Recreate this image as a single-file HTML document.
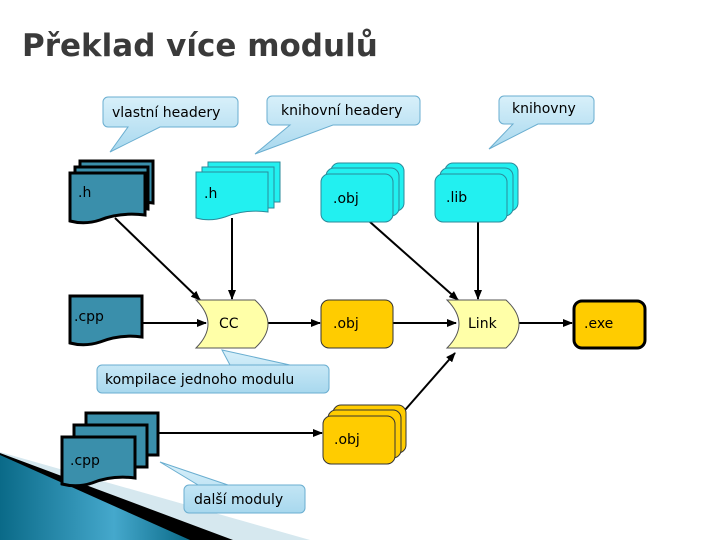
<!DOCTYPE html>
<html><head><meta charset="utf-8"><style>
body{margin:0;width:720px;height:540px;background:#fff;overflow:hidden}
svg{display:block}
text{font-family:"DejaVu Sans","Liberation Sans",sans-serif;font-size:14px;fill:#000}
</style></head><body>
<svg width="720" height="540" viewBox="0 0 720 540">
<defs>
<marker id="a" markerWidth="10" markerHeight="8" refX="9" refY="4" orient="auto" markerUnits="userSpaceOnUse"><path d="M0,0L10,4L0,8z" fill="#000"/></marker>
<linearGradient id="cg" x1="0" y1="0" x2="0" y2="1"><stop offset="0" stop-color="#d8f0fa"/><stop offset="1" stop-color="#a8d8ee"/></linearGradient>
<linearGradient id="bw" x1="0" y1="0" x2="1" y2="0"><stop offset="0" stop-color="#0a6a88"/><stop offset="0.6" stop-color="#45a8cc"/><stop offset="1" stop-color="#0a6a88"/></linearGradient>
</defs>
<polygon points="0,452 310,540 0,540" fill="#d6e8ef"/>
<polygon points="0,453 233,540 0,540" fill="#000"/>
<polygon points="0,455 190,540 0,540" fill="url(#bw)"/>

<text x="22" y="56" style="font-size:31px;font-weight:bold;fill:#3a3a3a">Překlad více modulů</text>

<g stroke="#6aaed0" stroke-width="1" fill="url(#cg)">
<path d="M108,97H233a5,5 0 0 1 5,5V122a5,5 0 0 1 -5,5H160L110,152L128,127H108a5,5 0 0 1 -5,-5V102a5,5 0 0 1 5,-5z"/>
<path d="M272,96H415a5,5 0 0 1 5,5V120a5,5 0 0 1 -5,5H333L255,154L290,125H272a5,5 0 0 1 -5,-5V101a5,5 0 0 1 5,-5z"/>
<path d="M504,96H589a5,5 0 0 1 5,5V119a5,5 0 0 1 -5,5H538L489,149L513,124H504a5,5 0 0 1 -5,-5V101a5,5 0 0 1 5,-5z"/>
<path d="M102,365H324a5,5 0 0 1 5,5V388a5,5 0 0 1 -5,5H102a5,5 0 0 1 -5,-5V370a5,5 0 0 1 5,-5H230L222,350L290,365"/>
<path d="M189,485H300a5,5 0 0 1 5,5V508a5,5 0 0 1 -5,5H189a5,5 0 0 1 -5,-5V490a5,5 0 0 1 5,-5H198L160,462L228,485"/>
</g>
<text x="112" y="117">vlastní headery</text>
<text x="281" y="115">knihovní headery</text>
<text x="512" y="113">knihovny</text>
<text x="105" y="384">kompilace jednoho modulu</text>
<text x="194" y="504">další moduly</text>

<g stroke="#000" stroke-width="2" fill="none" marker-end="url(#a)">
<line x1="115" y1="218" x2="200" y2="300"/>
<line x1="232" y1="218" x2="232" y2="299"/>
<line x1="370" y1="222" x2="458" y2="300"/>
<line x1="478" y1="222" x2="478" y2="299"/>
<line x1="142" y1="323" x2="206" y2="323"/>
<line x1="268" y1="323" x2="320" y2="323"/>
<line x1="393" y1="323" x2="456" y2="323"/>
<line x1="519" y1="323" x2="572" y2="323"/>
<line x1="158" y1="433" x2="322" y2="433"/>
<line x1="405" y1="410" x2="455" y2="353"/>
</g>

<g fill="#3a8fab" stroke="#000" stroke-width="3">
<path d="M80,161H153V203Q130,200 110,210Q95,214 80,210z"/>
<path d="M75,167H148V209Q125,206 105,216Q90,220 75,216z"/>
<path d="M70,173H145V215Q120,212 100,220Q85,225 70,221z"/>
<path d="M70,296H142V337Q120,334 100,342Q85,347 70,343z"/>
<path d="M86,413H158V455H86z"/>
<path d="M74,425H147V467H74z"/>
<path d="M62,437H135V478Q112,475 92,483Q77,488 62,484z"/>
</g>
<text x="78" y="197">.h</text>
<text x="74" y="321">.cpp</text>
<text x="70" y="465">.cpp</text>

<g fill="#22f0f0" stroke="#2a8a9a" stroke-width="1">
<path d="M208,162H280V202H208z"/>
<path d="M202,167H274V208H202z"/>
<path d="M196,172H268V212Q245,209 225,217Q210,222 196,218z"/>
<rect x="331" y="163" width="73" height="48" rx="8"/>
<rect x="326" y="168" width="73" height="48" rx="8"/>
<rect x="321" y="174" width="72" height="48" rx="8"/>
<rect x="445" y="163" width="73" height="48" rx="8"/>
<rect x="440" y="168" width="73" height="48" rx="8"/>
<rect x="435" y="174" width="72" height="48" rx="8"/>
</g>
<text x="204" y="198">.h</text>
<text x="333" y="203">.obj</text>
<text x="446" y="202">.lib</text>

<g fill="#ffffa8" stroke="#555" stroke-width="1">
<path d="M196,300H255Q268,312 268,324Q268,336 255,348H196Q208,336 208,324Q208,312 196,300z"/>
<path d="M447,300H506Q519,312 519,324Q519,336 506,348H447Q459,336 459,324Q459,312 447,300z"/>
</g>
<text x="219" y="328">CC</text>
<text x="468" y="328">Link</text>

<g fill="#ffcc00" stroke="#333" stroke-width="1">
<rect x="321" y="300" width="72" height="48" rx="8"/>
<rect x="333" y="405" width="73" height="48" rx="8"/>
<rect x="328" y="410" width="73" height="48" rx="8"/>
<rect x="323" y="416" width="72" height="48" rx="8"/>
</g>
<rect x="574" y="301" width="71" height="47" rx="8" fill="#ffcc00" stroke="#000" stroke-width="3"/>
<text x="333" y="328">.obj</text>
<text x="334" y="444">.obj</text>
<text x="584" y="328">.exe</text>
</svg>
</body></html>
